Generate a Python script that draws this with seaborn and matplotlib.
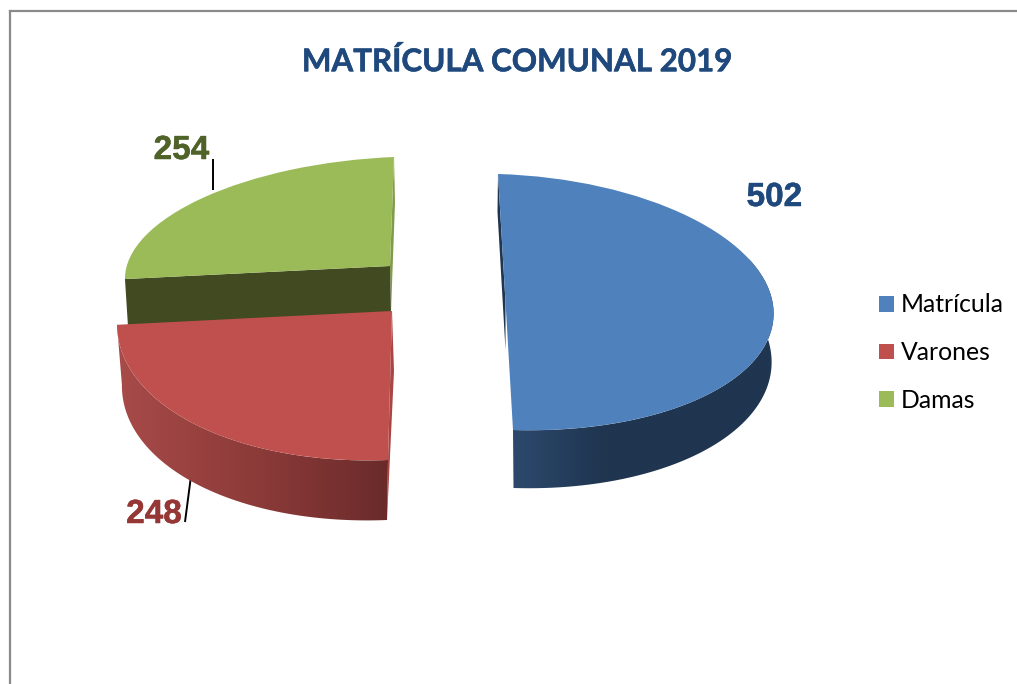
import numpy as np
import matplotlib
matplotlib.use("Agg")
import matplotlib.pyplot as plt
import matplotlib.patheffects as pe
from matplotlib.patches import Polygon
from matplotlib.transforms import Affine2D
from matplotlib.colors import to_rgb
import seaborn as sns

labels = ["Matrícula", "Varones", "Damas"]
values = [502, 248, 254]
top_colors = ["#4f81bd", "#c0504d", "#9bbb59"]
label_colors = ["#1f497d", "#953735", "#4f6228"]
title_text = "MATRÍCULA COMUNAL 2019"

sns.set_theme(style="white")
plt.rcParams["font.family"] = ["Lato", "DejaVu Sans"]

fig = plt.figure(figsize=(10.17, 6.84), dpi=100, facecolor="white")
ax = fig.add_axes([0, 0, 1, 1])
wedges, _ = ax.pie(values, colors=top_colors, startangle=90, counterclock=False, radius=1,
                   wedgeprops=dict(linewidth=0))
ax.set_aspect("auto")
ax.set_axis_on()
ax.set_xticks([])
ax.set_yticks([])
for s in ax.spines.values():
    s.set_visible(False)

# frame per slice: apex, right vector, up vector (pixels) for top face and for base
frames = {
    "Matrícula": dict(top=((505.5, 302), (268, 8), (-7.5, -128)),
                      base=((505.5, 350), (266, 8), (-8, -138))),
    "Varones": dict(top=((392, 311), (275, -11), (4, -149)),
                    base=((394, 371), (272, -11), (7, -149))),
    "Damas": dict(top=((390, 266), (265, -11), (4, -109)),
                  base=((391, 312), (263, -12), (4, -109))),
}
wall_ramps = {
    "Matrícula": [(0.0, "#2d4a6e"), (0.36, "#1f3550"), (1.0, "#1f3550")],
    "Varones": [(0.0, "#a84b49"), (0.5, "#8c3b39"), (1.0, "#692a2a")],
}
sliver_colors = {"Matrícula": "#1f3550", "Varones": "#a84644", "Damas": "#7f9c4a"}


def pt(frame, deg):
    (ax0, ay0), (rx, ry), (ux, uy) = frame
    t = np.deg2rad(deg)
    return ax0 + np.cos(t) * rx + np.sin(t) * ux, ay0 + np.cos(t) * ry + np.sin(t) * uy


def ramp(stops, f):
    xs = [s[0] for s in stops]
    cols = np.array([to_rgb(s[1]) for s in stops])
    return np.stack([np.interp(f, xs, cols[:, i]) for i in range(3)], axis=-1)


def cut_wall(top, base, deg, col, z):
    p0, p1 = top[0], pt(top, deg)
    b0, b1 = base[0], pt(base, deg)
    ax.fill([p1[0], p0[0], b0[0], b1[0]], [p1[1], p0[1], b0[1], b1[1]], color=col, lw=0, zorder=z)


z = 2
for i in [2, 1, 0]:
    name = labels[i]
    w = wedges[i]
    fr = frames[name]
    t1, t2 = w.theta1, w.theta2
    top, base = fr["top"], fr["base"]
    if name == "Damas":
        cut_wall(top, base, t1, sliver_colors[name], z)
        cut_wall(top, base, t2, "#414a21", z + 0.5)
    else:
        cut_wall(top, base, t2, sliver_colors[name], z)
        degs = np.linspace(t1, t2, 200)
        degs = degs[np.sin(np.deg2rad(degs)) < 0.4]
        tp = np.array([pt(top, d) for d in degs])
        bp = np.array([pt(base, d) for d in degs])
        outline = np.vstack([tp, bp[::-1]])
        x0, x1 = bp[:, 0].min(), bp[:, 0].max()
        y0, y1 = outline[:, 1].min(), outline[:, 1].max()
        grad = ramp(wall_ramps[name], np.linspace(0, 1, 400))[None, :, :]
        im = ax.imshow(grad, extent=(x0 - 6, x1 + 6, y1 + 1, y0 - 1), aspect="auto",
                       interpolation="bilinear", zorder=z)
        im.set_clip_path(Polygon(outline, closed=True, transform=ax.transData))
    (a0, b0_), (rx, ry), (ux, uy) = top
    w.set_transform(Affine2D.from_values(rx, ry, ux, uy, a0, b0_) + ax.transData)
    w.set_zorder(z + 1)
    z += 2

ax.set_aspect("auto")
ax.set_xlim(0, 1017)
ax.set_ylim(684, 0)

# leader lines
ax.plot([213, 213], [159, 190], color="black", lw=1.4, zorder=12, solid_capstyle="butt")
ax.plot([191, 185], [476, 522], color="black", lw=1.4, zorder=1, solid_capstyle="butt")

# data labels
positions = [(774.5, 194), (154, 511), (181.5, 147)]
for v, c, (x, y) in zip(values, label_colors, positions):
    t = ax.text(x, y, str(v), color=c, fontsize=24, fontweight="bold", ha="center", va="center_baseline",
                family="Liberation Sans", zorder=20)
    t.set_path_effects([pe.withStroke(linewidth=0.35, foreground=c)])

tt = ax.text(517.5, 62, title_text, color="#1f497d", fontsize=22.55, fontweight="bold",
             ha="center", va="center", zorder=20)
tt.set_path_effects([pe.withStroke(linewidth=0.4, foreground="#1f497d")])

# chart frame
ax.plot([9.5, 9.5], [684, 11], color="#8a8a8a", lw=1.6, zorder=30, solid_capstyle="projecting")
ax.plot([9.5, 1017], [11, 11], color="#8a8a8a", lw=1.6, zorder=30, solid_capstyle="projecting")

leg = ax.legend(wedges, labels, loc="upper left", bbox_to_anchor=(879 / 1017, 1 - 293.5 / 684),
                frameon=False, fontsize=17.8, handlelength=0.61, handleheight=0.61,
                handletextpad=0.27, labelspacing=1.0, borderpad=0, borderaxespad=0,
                labelcolor="black")
fig.savefig("out.png", dpi=100, facecolor="white")
